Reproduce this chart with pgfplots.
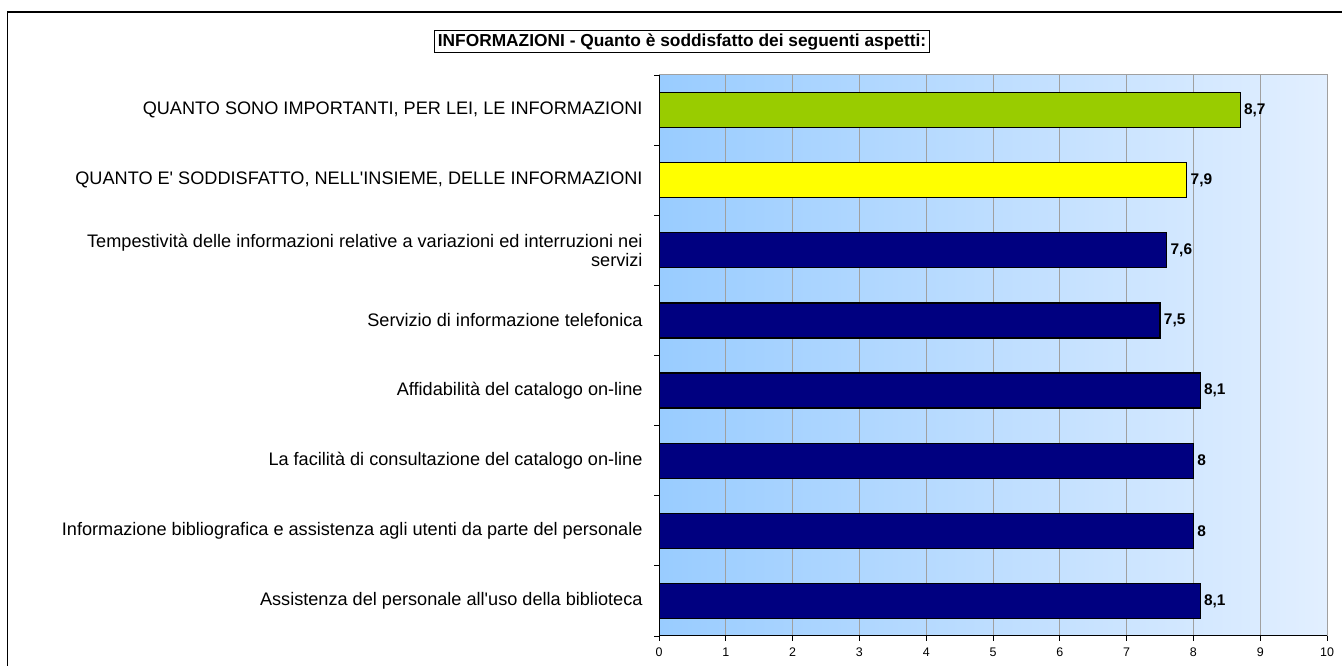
\documentclass[border=0pt]{standalone}
\usepackage{pgfplots}
\pgfplotsset{compat=1.18}
\usepackage{fontspec}
\setmainfont{Liberation Sans}
\definecolor{navyb}{RGB}{0,0,128}
\definecolor{greenb}{RGB}{153,204,0}
\definecolor{yellowb}{RGB}{255,255,0}
\definecolor{bgL}{RGB}{153,204,255}
\definecolor{bgR}{RGB}{226,239,255}
\definecolor{gridc}{RGB}{160,160,160}
\begin{document}
\begin{tikzpicture}[x=1bp,y=1bp]
\useasboundingbox (0,0) rectangle (1342,666);
\draw[line width=1.6bp] (7.5,0) -- (7.5,654.2) -- (1342,654.2);
\node[draw, line width=0.8bp, font=\bfseries\fontsize{17.4}{20}\selectfont, inner sep=3bp] at (682,624.5) {INFORMAZIONI - Quanto è soddisfatto dei seguenti aspetti:};
\begin{axis}[
  at={(659bp,30bp)}, anchor=south west, scale only axis,
  width=668bp, height=561bp,
  xmin=0, xmax=10, ymin=0.5, ymax=8.5,
  xtick={0,1,...,10},
  xtick pos=bottom, ytick pos=left,
  /pgf/number format/assume math mode=true,
  /pgf/number format/use comma,
  xticklabel style={font=\fontsize{12.5}{14}\selectfont, yshift=-3bp},
  tick align=outside,
  major tick length=5bp,
  tick style={black, line width=0.8bp},
  axis background/.style={left color=bgL, right color=bgR},
  axis line style={draw=gridc, line width=1bp},
  xmajorgrids, grid style={gridc, line width=0.8bp},
  ytick={0.5,1.5,...,8.5}, yticklabels={},
  extra y ticks={1,2,3,4,5,6,7,8},
  extra y tick labels={
    Assistenza del personale all\textquotesingle uso della biblioteca,
    Informazione bibliografica e assistenza agli utenti da parte del personale,
    La facilità di consultazione del catalogo on-line,
    Affidabilità del catalogo on-line,
    Servizio di informazione telefonica,
    {Tempestività delle informazioni relative a variazioni ed interruzioni nei\\servizi},
    {QUANTO E\textquotesingle\ SODDISFATTO, NELL\textquotesingle INSIEME, DELLE INFORMAZIONI},
    {QUANTO SONO IMPORTANTI, PER LEI, LE INFORMAZIONI}},
  extra y tick style={tick style={draw=none}, grid=none},
  yticklabel style={align=right, font=\fontsize{18.2}{19}\selectfont, xshift=-8bp},
  xbar, bar width=35bp, bar shift=0pt,
  nodes near coords,
  every node near coord/.append style={font=\bfseries\fontsize{15.5}{17}\selectfont, black, anchor=west, xshift=0bp},
]
\addplot[fill=navyb, draw=black, line width=1.2bp] coordinates {(8.1,1) (8,2) (8,3) (8.1,4) (7.5,5) (7.6,6)};
\addplot[fill=yellowb, draw=black, line width=1.2bp] coordinates {(7.9,7)};
\addplot[fill=greenb, draw=black, line width=1.2bp] coordinates {(8.7,8)};
\draw[black, line width=1bp] (rel axis cs:0,1) -- (rel axis cs:0,0) -- (rel axis cs:1,0);
\end{axis}
\end{tikzpicture}
\end{document}
